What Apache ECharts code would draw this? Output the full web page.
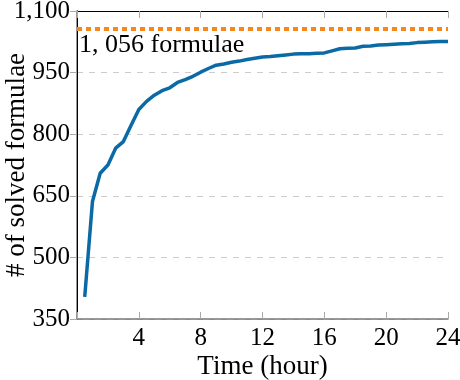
<!DOCTYPE html>
<html><head><meta charset="utf-8">
<script src="https://cdn.jsdelivr.net/npm/echarts@6/dist/echarts.min.js"></script>
<style>html,body{margin:0;padding:0;background:#fff}#c{width:460px;height:380px}</style>
</head><body><div id="c"></div>
<script>
const hours = [0.5,1,1.5,2,2.5,3,3.5,4,4.5,5,5.5,6,6.5,7,7.5,8,8.5,9,9.5,10,10.5,11,11.5,12,12.5,13,13.5,14,14.5,15,15.5,16,16.5,17,17.5,18,18.5,19,19.5,20,20.5,21,21.5,22,22.5,23,23.5,24];
const solved = [404,636,705,725,766,782,822,860,880,895,906,913,926,933,941,951,960,968,971,975,978,982,985,988,989,991,993,995,996,996,997,998,1003,1008,1009,1010,1014,1015,1017,1018,1019,1020,1021,1023,1024,1025,1026,1026];
const totalFormulae = 1056;
const totalLabel = '1, 056 formulae';
const xTicks = [4,8,12,16,20,24];
const yTicks = [350,500,650,800,950,1100];
const xTitle = 'Time (hour)';
const yTitle = '# of solved formulae';

const FONT = "'Liberation Serif', 'Times New Roman', serif";
const FS = 25;
const FS_NAME = 27;
const chart = echarts.init(document.getElementById('c'));
const fmt = v => v >= 1000 ? Math.floor(v/1000) + ',' + String(v%1000).padStart(3,'0') : String(v);
chart.setOption({
  animation: false,
  textStyle: {fontFamily: FONT},
  grid: {left: 77, right: 12, top: 11, bottom: 61, containLabel: false, outerBoundsMode: 'none'},
  xAxis: [{
    type: 'value', min: 0, max: 24, interval: 4,
    name: xTitle, nameLocation: 'middle', nameGap: 34, nameMoveOverlap: false,
    nameTextStyle: {fontFamily: FONT, fontSize: FS_NAME, color: '#000'},
    axisLine: {show: true, lineStyle: {color: '#777', width: 1.5}},
    axisTick: {show: true, inside: true, length: 7, lineStyle: {color: '#aaa'}},
    axisLabel: {fontFamily: FONT, fontSize: FS, color: '#000', margin: 7,
      formatter: v => xTicks.includes(v) ? String(v) : ''},
    splitLine: {show: false}
  },{
    type: 'value', min: 0, max: 24, interval: 4, position: 'top',
    axisLine: {show: true, lineStyle: {color: '#000', width: 1}},
    axisTick: {show: true, inside: true, length: 7, lineStyle: {color: '#aaa'}},
    axisLabel: {show: false}, splitLine: {show: false}
  }],
  yAxis: [{
    type: 'value', min: 350, max: 1100, interval: 150,
    name: yTitle, nameLocation: 'middle', nameGap: 47, nameMoveOverlap: false,
    nameTextStyle: {fontFamily: FONT, fontSize: FS_NAME, color: '#000'},
    axisLine: {show: true, lineStyle: {color: '#777', width: 1.5}},
    axisTick: {show: false},
    axisLabel: {fontFamily: FONT, fontSize: FS, color: '#000', margin: 7,
      formatter: v => yTicks.includes(v) ? fmt(v) : ''},
    splitLine: {show: true, lineStyle: {color: '#ccc', type: [6,6], width: 1}}
  },{
    type: 'value', min: 350, max: 1100, interval: 150, position: 'right',
    axisLine: {show: true, lineStyle: {color: '#000', width: 1}},
    axisTick: {show: true, inside: true, length: 7, lineStyle: {color: '#aaa'}},
    axisLabel: {show: false}, splitLine: {show: false}
  }],
  series: [{
    type: 'line',
    data: hours.map((h,i) => [h, solved[i]]),
    showSymbol: false,
    lineStyle: {color: '#0a6aa6', width: 3.5},
    itemStyle: {color: '#0a6aa6'},
    markLine: {
      silent: true, symbol: ['none','none'],
      lineStyle: {color: '#f7861b', width: 4, type: [5,4]},
      label: {show: true, position: 'insideStartBottom', distance: [2, 3],
        formatter: totalLabel, fontFamily: FONT, fontSize: 26, color: '#000'},
      data: [{yAxis: totalFormulae}]
    }
  }]
});
</script></body></html>
